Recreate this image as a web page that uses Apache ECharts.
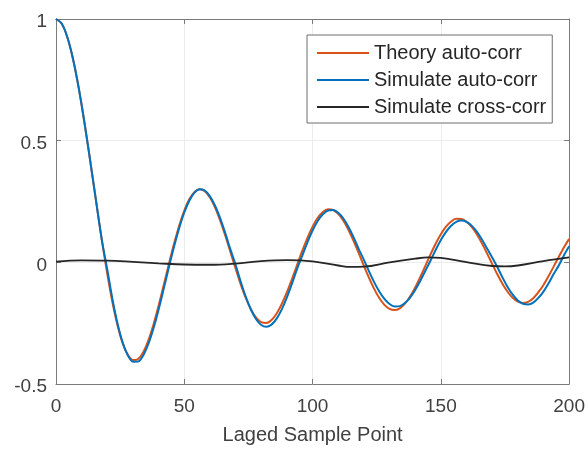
<!DOCTYPE html>
<html>
<head>
<meta charset="utf-8">
<script src="https://cdn.jsdelivr.net/npm/echarts@6/dist/echarts.min.js"></script>
<style>html,body{margin:0;padding:0;background:#fff;}#c{width:588px;height:450px;}</style>
</head>
<body>
<div id="c"></div>
<script>
// Lag positions (samples) for the auto-correlation curves
const lags = [0,2,4,6,8,10,12,14,16,18,20,22,24,26,28,30,32,34,36,38,40,42,44,46,48,50,
  52,54,56,58,60,62,64,66,68,70,72,74,76,78,80,82,84,86,88,90,92,94,96,98,100,
  102,104,106,108,110,112,114,116,118,120,122,124,126,128,130,132,134,136,138,140,
  142,144,146,148,150,152,154,156,158,160,162,164,166,168,170,172,174,176,178,180,
  182,184,186,188,190,192,194,196,198,200];
// Theory auto-correlation
const theoryAuto = [1,0.9844,0.9385,0.8642,0.7652,0.6459,0.5118,0.3690,0.2239,0.0827,
  -0.0484,-0.1641,-0.2601,-0.3328,-0.3801,-0.4014,-0.3971,-0.3692,-0.3205,-0.2552,
  -0.1776,-0.0932,-0.0068,0.0759,0.1506,0.2130,0.2601,0.2894,0.3001,0.2920,
  0.2663,0.2253,0.1717,0.1092,0.0419,-0.0259,-0.0903,-0.1474,-0.1939,-0.2273,
  -0.2459,-0.2490,-0.2366,-0.2101,-0.1712,-0.1227,-0.0677,-0.0097,0.0477,0.1009,
  0.1469,0.1829,0.2069,0.2178,0.2150,0.1990,0.1711,0.1331,0.0875,0.0374,
  -0.0142,-0.0641,-0.1092,-0.1469,-0.1749,-0.1917,-0.1964,-0.1889,-0.1699,-0.1406,
  -0.1029,-0.0598,-0.0134,0.0332,0.0775,0.1157,0.1466,0.1681,0.1789,0.1785,
  0.1670,0.1454,0.1151,0.0780,0.0366,-0.0066,-0.0489,-0.0877,-0.1208,-0.1457,
  -0.1617,-0.1672,-0.1625,-0.1477,-0.1227,-0.0928,-0.0562,-0.0166,0.0234,0.0621,0.0963];
// Simulated auto-correlation
const simAuto = [1,0.9844,0.9385,0.8642,0.7652,0.6459,0.5118,0.3690,0.2239,0.0827,
  -0.0305,-0.1512,-0.2523,-0.3303,-0.3825,-0.4081,-0.4075,-0.3824,-0.3357,-0.2712,
  -0.1936,-0.1081,-0.0199,0.0641,0.1403,0.2048,0.2544,0.2864,0.2999,0.2945,
  0.2713,0.2324,0.1804,0.1190,0.0520,-0.0100,-0.0796,-0.1425,-0.1949,-0.2340,
  -0.2578,-0.2652,-0.2560,-0.2314,-0.1931,-0.1438,-0.0868,-0.0256,0.0279,0.0822,
  0.1306,0.1698,0.1978,0.2132,0.2150,0.2036,0.1800,0.1455,0.1026,0.0544,
  0.0103,-0.0371,-0.0814,-0.1201,-0.1506,-0.1714,-0.1813,-0.1799,-0.1674,-0.1448,
  -0.1133,-0.0756,-0.0338,0.0077,0.0518,0.0914,0.1249,0.1504,0.1663,0.1718,
  0.1664,0.1509,0.1263,0.0941,0.0566,0.0200,-0.0189,-0.0619,-0.1011,-0.1330,
  -0.1567,-0.1702,-0.1733,-0.1659,-0.1462,-0.1201,-0.0864,-0.0474,-0.0121,0.0293,0.0659];
// Cross-correlation lags and values
const crossLags = [0,10,20,30,40,50,60,70,80,90,100,110,115,120,130,140,145,150,160,170,175,180,190,200];
const simCross = [0.003,0.008,0.007,0.002,-0.004,-0.009,-0.010,-0.005,0.005,0.009,0.004,-0.013,-0.019,-0.018,
  0.000,0.015,0.020,0.018,0.001,-0.015,-0.017,-0.013,0.005,0.020];
const xTicks = [0,50,100,150,200];
const yTicks = [-0.5,0,0.5,1];
const names = ['Theory auto-corr','Simulate auto-corr','Simulate cross-corr'];

const pairs = (xs, ys) => xs.map((x, i) => [x, ys[i]]);
const axisColor = '#7a7a7a';
const labelColor = '#404040';
const font = 'Liberation Sans, Arial, Helvetica, sans-serif';

const chart = echarts.init(document.getElementById('c'), null, {renderer: 'canvas'});
const fmtY = v => '{a|' + (v === 0 ? '0' : String(v)) + '}';
const tickStyle = {show: true, inside: true, length: 5, lineStyle: {color: axisColor}};
chart.setOption({
  animation: false,
  backgroundColor: '#fff',
  grid: {left: 56, right: 18, top: 19, bottom: 63, containLabel: false},
  legend: {
    orient: 'vertical', left: 307, top: 35,
    data: names,
    icon: 'rect', itemWidth: 52, itemHeight: 2, itemGap: 7,
    padding: [8, 6, 6, 10],
    borderColor: '#6e6e6e', borderWidth: 1, backgroundColor: '#fff',
    textStyle: {fontSize: 20, color: '#262626', fontFamily: font, lineHeight: 20}
  },
  xAxis: [{
    type: 'value', min: xTicks[0], max: xTicks[xTicks.length - 1], interval: 50,
    name: 'Laged Sample Point', nameLocation: 'middle', nameGap: 41,
    nameTextStyle: {fontSize: 20, color: labelColor, fontFamily: font},
    axisLine: {show: true, onZero: false, lineStyle: {color: axisColor, width: 1}},
    axisTick: tickStyle,
    axisLabel: {fontSize: 19, color: labelColor, fontFamily: font, margin: 13},
    splitLine: {show: true, lineStyle: {color: '#ececec', width: 1}}
  }, {
    type: 'value', position: 'top', min: 0, max: 200, interval: 50,
    axisLine: {show: true, onZero: false, lineStyle: {color: axisColor, width: 1}},
    axisTick: tickStyle,
    axisLabel: {show: false}, splitLine: {show: false}
  }],
  yAxis: [{
    type: 'value', min: yTicks[0], max: yTicks[yTicks.length - 1], interval: 0.5,
    axisLine: {show: true, onZero: false, lineStyle: {color: axisColor, width: 1}},
    axisTick: tickStyle,
    axisLabel: {color: labelColor, margin: 9, formatter: fmtY,
      rich: {a: {fontSize: 19, color: labelColor, fontFamily: font, padding: [6, 0, 0, 0]}}},
    splitLine: {show: true, lineStyle: {color: '#ececec', width: 1}}
  }, {
    type: 'value', position: 'right', min: -0.5, max: 1, interval: 0.5,
    axisLine: {show: true, onZero: false, lineStyle: {color: axisColor, width: 1}},
    axisTick: tickStyle,
    axisLabel: {show: false}, splitLine: {show: false}
  }],
  series: [
    {name: names[0], type: 'line', data: pairs(lags, theoryAuto), showSymbol: false, symbol: 'none',
     smooth: 0.3, lineStyle: {color: '#D95319', width: 2}, itemStyle: {color: '#D95319'}, z: 2},
    {name: names[1], type: 'line', data: pairs(lags, simAuto), showSymbol: false, symbol: 'none',
     smooth: 0.3, lineStyle: {color: '#0072BD', width: 2}, itemStyle: {color: '#0072BD'}, z: 3},
    {name: names[2], type: 'line', data: pairs(crossLags, simCross), showSymbol: false, symbol: 'none',
     smooth: 0.4, lineStyle: {color: '#262626', width: 1.8}, itemStyle: {color: '#262626'}, z: 4}
  ]
});
</script>
</body>
</html>
